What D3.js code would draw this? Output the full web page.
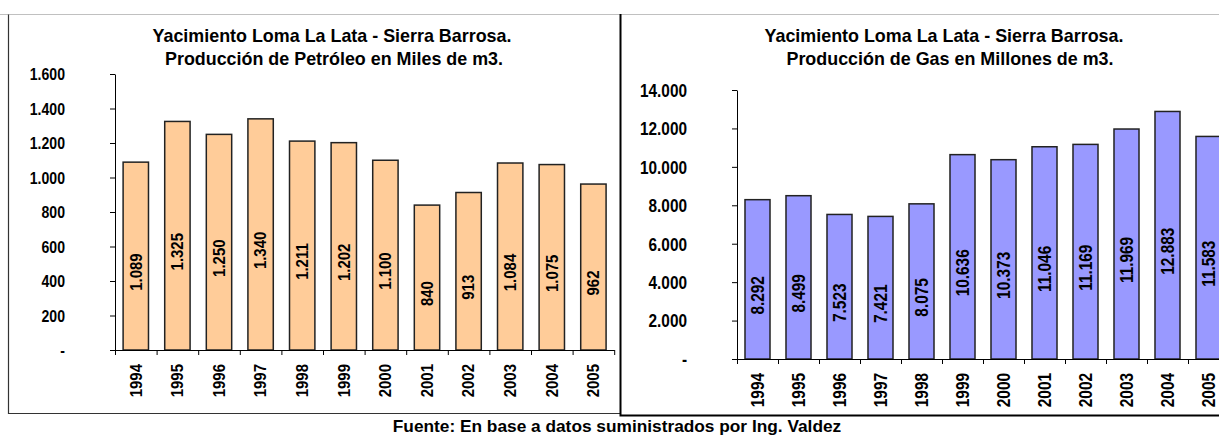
<!DOCTYPE html>
<html><head><meta charset="utf-8">
<script src="https://cdn.jsdelivr.net/npm/d3@7"></script>
<style>
html,body{margin:0;padding:0;background:#fff;}
svg text{font-family:"Liberation Sans",Arial,sans-serif;font-weight:bold;fill:#000;}
</style></head>
<body><svg id="c" width="1219" height="436"></svg>
<script>
const years = ["1994","1995","1996","1997","1998","1999","2000","2001","2002","2003","2004","2005"];
const oilValues = [1089,1325,1250,1340,1211,1202,1100,840,913,1084,1075,962];
const gasValues = [8292,8499,7523,7421,8075,10636,10373,11046,11169,11969,12883,11583];
const oilTicks = [0,200,400,600,800,1000,1200,1400,1600];
const gasTicks = [0,2000,4000,6000,8000,10000,12000,14000];
const titleLine1 = "Yacimiento Loma La Lata - Sierra Barrosa.";
const oilTitle2 = "Producción de Petróleo en Miles de m3.";
const gasTitle2 = "Producción de Gas en Millones de m3.";
const footer = "Fuente: En base a datos suministrados por Ing. Valdez";

const loc = d3.formatLocale({decimal:",",thousands:".",grouping:[3],currency:["",""]});
const fmt = loc.format(",d");
const tickFmt = v => v === 0 ? "-" : fmt(v);
const FF = '"Liberation Sans",Arial,sans-serif';

const svg = d3.select("#c");
svg.append("rect").attr("width",1219).attr("height",436).attr("fill","#fff");

// frames
svg.append("line").attr("x1",0).attr("x2",1219).attr("y1",14.5).attr("y2",14.5).attr("stroke","#c0c0c0");
svg.append("path").attr("d","M8.5,14.5V413.5H620").attr("fill","none").attr("stroke","#333").attr("stroke-width",1.2);
svg.append("path").attr("d","M620.5,14V415.5H1219").attr("fill","none").attr("stroke","#000").attr("stroke-width",2);

function chart(cfg){
  const g = svg.append("g");
  const y = d3.scaleLinear().domain([0, cfg.max]).range([cfg.y0, cfg.yTop]);
  const x = d3.scaleBand().domain(years).range([cfg.x0, cfg.x0 + cfg.step*years.length])
              .paddingInner(0.39).paddingOuter(0.195);
  const xi = d3.scaleLinear().domain([0, years.length]).range(x.range());

  // titles
  g.append("text").attr("x",cfg.tx).attr("y",42).attr("text-anchor","middle")
    .style("font-size","17.9px").text(titleLine1);
  g.append("text").attr("x",cfg.tx2).attr("y",65).attr("text-anchor","middle")
    .style("font-size","17.9px").text(cfg.title2);

  // bars
  g.selectAll("rect.bar").data(cfg.values).join("rect").attr("class","bar")
    .attr("x",(d,i)=>x(years[i])).attr("width",x.bandwidth())
    .attr("y",d=>y(d)).attr("height",d=>y(0)-y(d))
    .attr("fill",cfg.color).attr("stroke","#222").attr("stroke-width",1.5);

  // value labels
  g.selectAll("text.val").data(cfg.values).join("text").attr("class","val")
    .attr("transform",(d,i)=>`translate(${x(years[i])+x.bandwidth()/2},${(y(d)+y(0))/2+16}) rotate(-90) scale(${cfg.sx},1)`)
    .attr("text-anchor","middle").attr("dominant-baseline","central")
    .style("font-size",cfg.valSize+"px").text(d=>fmt(d));

  // y axis
  const ya = g.append("g").attr("transform",`translate(${cfg.x0},0)`)
    .call(d3.axisLeft(y).tickValues(cfg.ticks).tickFormat(tickFmt).tickSizeInner(5).tickSizeOuter(0).tickPadding(45));
  ya.selectAll("path,line").attr("stroke","#000");
  ya.selectAll("text").attr("x",0).attr("dy",null).attr("dominant-baseline","central")
    .attr("transform",`translate(-50,0) scale(${cfg.sx},1)`)
    .style("font-size",cfg.tickSize+"px").style("font-family",FF).style("font-weight","bold");

  // x axis boundary ticks
  const xa = g.append("g").attr("transform",`translate(0,${cfg.y0})`)
    .call(d3.axisBottom(xi).tickValues(d3.range(years.length+1)).tickFormat("").tickSizeInner(5).tickSizeOuter(0));
  xa.selectAll("path,line").attr("stroke","#000");

  // year labels
  const xl = g.append("g").attr("transform",`translate(0,${cfg.y0})`)
    .call(d3.axisBottom(x).tickSize(0).tickPadding(0));
  xl.select(".domain").remove();
  xl.selectAll("text").attr("y",null).attr("dy",null)
    .attr("transform",`translate(0,14) rotate(-90) scale(${cfg.sx},1)`)
    .attr("text-anchor","end").attr("dominant-baseline","central")
    .style("font-size",cfg.yearSize+"px").style("font-family",FF).style("font-weight","bold");
}

chart({values:oilValues, ticks:oilTicks, max:1600, y0:350, yTop:74, x0:115, step:41.6,
       color:"#FFCC99", tx:332, tx2:334, title2:oilTitle2, valSize:17, tickSize:16, yearSize:17, sx:0.88});
chart({values:gasValues, ticks:gasTicks, max:14000, y0:359, yTop:90, x0:737, step:41.0,
       color:"#9999FF", tx:944, tx2:950, title2:gasTitle2, valSize:17.5, tickSize:17.5, yearSize:17.5, sx:0.88});

svg.append("text").attr("x",617).attr("y",432).attr("text-anchor","middle")
  .style("font-size","17.3px").text(footer);
</script></body></html>
